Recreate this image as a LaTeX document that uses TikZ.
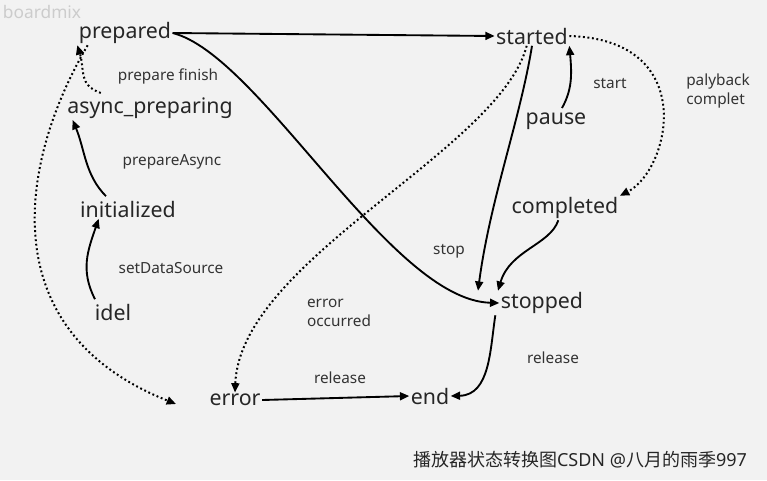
\documentclass[tikz,border=0pt]{standalone}
\usepackage{fontspec}
\setmainfont{Noto Sans}
\newfontfamily\cjk{Noto Sans CJK SC}
\usetikzlibrary{arrows.meta}
\begin{document}
\begin{tikzpicture}[x=0.75pt,y=-0.75pt,
  st/.style={font=\fontsize{16}{18}\selectfont,text=black!85,inner sep=1pt},
  lb/.style={font=\fontsize{11.5}{14}\selectfont,text=black!80,align=left,inner sep=1pt},
  ar/.style={-{Triangle[length=7pt,width=6pt]},line width=1.4pt,black},
  dt/.style={ar,dotted,line width=1.5pt}]
\fill[gray!10] (0,0) rectangle (767,480);
\useasboundingbox (0,0) rectangle (767,480);
\node[font=\fontsize{13}{15}\selectfont\bfseries,text=gray!40] (wm) at (42,12) {boardmix};
\node[st] (prepared) at (125,33) {prepared};
\node[st] (started) at (532,36) {started};
\node[st] (async) at (150,108) {async\_preparing};
\node[st] (pause) at (556,121) {pause};
\node[st] (init) at (128,209) {initialized};
\node[st] (completed) at (565,208) {completed};
\node[st] (idel) at (113,312) {idel};
\node[st] (stopped) at (542,303) {stopped};
\node[st] (error) at (235,400) {error};
\node[st] (end) at (430,396) {end};
\node[lb] (l1) at (168,76) {prepare finish};
\node[lb] (l2) at (172,162) {prepareAsync};
\node[lb] (l3) at (171,268) {setDataSource};
\node[lb] (l4) at (610,84) {start};
\node[lb] (l5) at (718,91) {palyback\\complet};
\node[lb] (l6) at (449,251) {stop};
\node[lb] (l7) at (339,313) {error\\occurred};
\node[lb] (l8) at (340,378) {release};
\node[lb] (l9) at (553,358) {release};
\node[font=\fontsize{13.5}{15}\selectfont,text=black!85] (cap) at (580,460) {{\cjk 播放器状态转换图}CSDN @{\cjk 八月的雨季}997};
\coordinate (e1) at (176,404);
\draw[ar] (prepared.east) -- (started.west);
\draw[ar] (prepared.east) .. controls (260,55) and (390,300) .. (stopped.west);
\draw[dt] (async.north west)+(35,-3) .. controls (78,85) and (85,70) .. (prepared.south west);
\draw[ar] (init.north)+(-22,-3) .. controls (85,175) and (85,150) .. ([xshift=-58pt]async.south);
\draw[ar] (idel.north)+(-18,-3) .. controls (80,270) and (88,250) .. ([xshift=-22pt]init.south);
\draw[dt] ([xshift=-28pt]prepared.south) .. controls (20,160) and (-10,330) .. (e1);
\draw[dt] ([xshift=-4pt]started.south) .. controls (500,150) and (240,260) .. (error.north);
\draw[ar] (started.south) .. controls (520,120) and (490,200) .. ([xshift=-48pt]stopped.north);
\draw[ar] (pause.north)+(6,-3) .. controls (572,90) and (572,75) .. ([xshift=28pt]started.south);
\draw[dt] (started.east) .. controls (700,40) and (670,170) .. (completed.north east);
\draw[ar] ([xshift=-5pt]completed.south) .. controls (550,245) and (510,250) .. ([xshift=-33pt]stopped.north);
\draw[ar] ([xshift=-35pt]stopped.south) .. controls (490,350) and (490,395) .. (end.east);
\draw[ar] (error.east) -- (end.west);
\end{tikzpicture}
\end{document}
